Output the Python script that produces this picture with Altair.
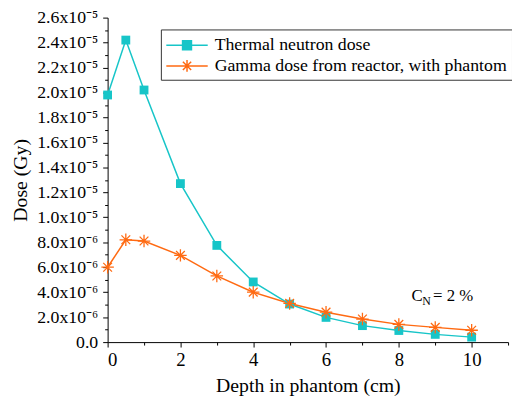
import altair as alt
import pandas as pd

depth = [0, 0.5, 1, 2, 3, 4, 5, 6, 7, 8, 9, 10]
thermal = [1.98e-5, 2.42e-5, 2.02e-5, 1.27e-5, 7.75e-6, 4.82e-6, 3.05e-6,
           1.98e-6, 1.32e-6, 0.93e-6, 0.62e-6, 0.40e-6]
gamma = [6.0e-6, 8.2e-6, 8.1e-6, 6.95e-6, 5.3e-6, 4.0e-6, 3.1e-6,
         2.4e-6, 1.85e-6, 1.42e-6, 1.18e-6, 0.95e-6]
series_names = ["Thermal neutron dose", "Gamma dose from reactor, with phantom"]
colors = ["#17C5C8", "#FF6A12"]

x_ticks = list(range(0, 12))
y_ticks = [round(i * 1e-6, 12) for i in range(0, 27)]

ASTER = "M-1,0L1,0M0,-1L0,1M-0.7,-0.7L0.7,0.7M-0.7,0.7L0.7,-0.7"
# legend glyphs (unit = half the legend symbol slot): line segment + marker
LEG_SQUARE = ("M-1,0L3,0"
              "M0.57,-0.43L1.43,-0.43L1.43,0.43L0.57,0.43Z"
              "M0.7,-0.3L1.3,-0.3L1.3,0.3L0.7,0.3Z"
              "M0.83,-0.17L1.17,-0.17L1.17,0.17L0.83,0.17Z"
              "M0.95,-0.05L1.05,-0.05L1.05,0.05L0.95,0.05Z")
LEG_ASTER = ("M-1,0L3,0M1,-0.57L1,0.57M0.6,-0.4L1.4,0.4M0.6,0.4L1.4,-0.4")

rows = []
for name, vals in zip(series_names, [thermal, gamma]):
    for d, v in zip(depth, vals):
        rows.append({"depth": d, "dose": v, "series": name})
df = pd.DataFrame(rows)

FONT = "Liberation Serif"

x_enc = alt.X(
    "depth:Q",
    scale=alt.Scale(domain=[0, 11], nice=False, zero=False),
    axis=alt.Axis(
        title="Depth in phantom (cm)",
        values=x_ticks,
        labelExpr="datum.value % 2 == 0 ? '' + datum.value : ''",
        tickSize={"condition": {"test": "datum.value % 2 == 0", "value": 5}, "value": 3},
        grid=False,
        labelOverlap=False,
        titlePadding=6,
        labelPadding=4,
    ),
)
y_enc = alt.Y(
    "dose:Q",
    scale=alt.Scale(domain=[0, 2.6e-5], nice=False, zero=True),
    axis=alt.Axis(
        title="Dose (Gy)",
        values=y_ticks,
        labelExpr=(
            "round(datum.value*1e6) % 2 != 0 ? '' : "
            "(datum.value >= 9.99e-6 ? format(datum.value/1e-5, '.1f') + 'x10\u207b\u2075' : "
            "(datum.value > 0 ? format(datum.value/1e-6, '.1f') + 'x10\u207b\u2076' : '0.0'))"
        ),
        tickSize={"condition": {"test": "round(datum.value*1e6) % 2 == 0", "value": 5}, "value": 3},
        grid=False,
        labelOverlap=False,
        labelSeparation=0,
        labelFontSize=18,
        titlePadding=6,
        labelPadding=5,
    ),
)

base = alt.Chart(df)

lines = base.mark_line(strokeWidth=1.5).encode(
    x=x_enc,
    y=y_enc,
    color=alt.Color("series:N", scale=alt.Scale(domain=series_names, range=colors), legend=None),
)

pts_thermal = base.transform_filter(
    alt.datum.series == series_names[0]
).mark_point(shape="square", filled=True, size=80, opacity=1, color=colors[0]).encode(
    x=x_enc, y=y_enc
)

pts_gamma = base.transform_filter(
    alt.datum.series == series_names[1]
).mark_point(shape=ASTER, filled=False, size=160, strokeWidth=1.3, opacity=1, color=colors[1]).encode(
    x=x_enc, y=y_enc
)

leg = dict(title=None, orient="none", legendX=54, legendY=12)
legend_layer = base.transform_filter("datum.depth < 0").mark_point(
    filled=False, strokeWidth=1.5, opacity=1
).encode(
    x=x_enc,
    y=y_enc,
    color=alt.Color("series:N", scale=alt.Scale(domain=series_names, range=colors),
                    legend=alt.Legend(**leg)),
    shape=alt.Shape("series:N", scale=alt.Scale(domain=series_names, range=[LEG_SQUARE, LEG_ASTER]),
                    legend=alt.Legend(**leg)),
)

one = alt.Data(values=[{"a": 1}])
t_c = alt.Chart(one).mark_text(text="C", fontSize=17, align="left", baseline="alphabetic",
                               font=FONT, color="black").encode(x=alt.value(308), y=alt.value(287))
t_n = alt.Chart(one).mark_text(text="N", fontSize=12, align="left", baseline="alphabetic",
                               font=FONT, color="black").encode(x=alt.value(319), y=alt.value(291))
t_eq = alt.Chart(one).mark_text(text="= 2 %", fontSize=17, align="left", baseline="alphabetic",
                                font=FONT, color="black").encode(x=alt.value(330), y=alt.value(287))

chart = alt.layer(lines, pts_thermal, pts_gamma, legend_layer, t_c, t_n, t_eq).resolve_scale(
    color="independent", shape="independent"
).properties(
    width=406,
    height=329,
    autosize=alt.AutoSizeParams(type="none"),
    padding={"left": 101, "top": 7, "right": 4, "bottom": 60},
).configure_view(
    stroke=None
).configure_axis(
    labelFont=FONT,
    titleFont=FONT,
    labelFontSize=19,
    titleFontSize=20,
    titleFontWeight="normal",
    labelColor="black",
    titleColor="black",
    domainColor="black",
    tickColor="black",
    domainWidth=1,
    tickWidth=1,
    labelOverlap=False,
).configure_legend(
    labelFont=FONT,
    labelFontSize=18,
    labelColor="black",
    labelLimit=400,
    symbolSize=441,
    symbolStrokeWidth=1.5,
    labelOffset=27,
    strokeColor="#333333",
    fillColor="white",
    padding=4.5,
    rowPadding=0,
    cornerRadius=0,
)

chart.save("out.html", embed_options={"renderer": "svg", "actions": False})
